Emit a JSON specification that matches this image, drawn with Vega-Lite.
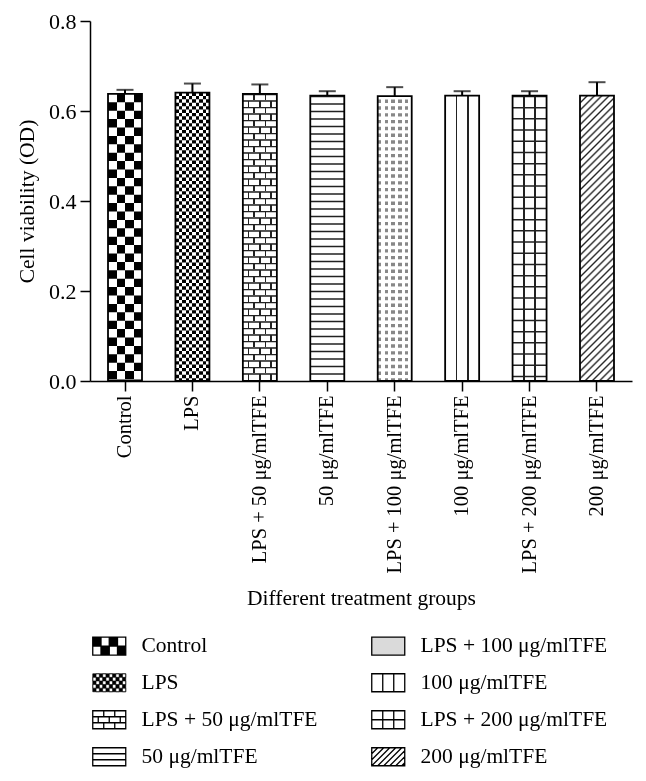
{
  "$schema": "https://vega.github.io/schema/vega-lite/v6.json",
  "width": 542,
  "height": 360,
  "autosize": "none",
  "padding": {"left": 90, "top": 21, "right": 14, "bottom": 400},
  "background": "white",
  "config": {
    "view": {"stroke": null},
    "axis": {
      "labelFont": "Liberation Serif", "labelFontSize": 20.5, "labelColor": "black",
      "titleFont": "Liberation Serif", "titleFontSize": 21.5, "titleFontWeight": "normal", "titleColor": "black",
      "domainColor": "black", "domainWidth": 1.5, "tickColor": "black", "tickWidth": 1.5, "tickSize": 10, "grid": false
    },
    "legend": {"labelFont": "Liberation Serif", "labelFontSize": 21.5, "labelColor": "black"}
  },
  "data": {
    "values": [
      {"group": "Control", "value": 0.638, "top": 0.647},
      {"group": "LPS", "value": 0.641, "top": 0.661},
      {"group": "LPS + 50 μg/mlTFE", "value": 0.638, "top": 0.659},
      {"group": "50 μg/mlTFE", "value": 0.634, "top": 0.644},
      {"group": "LPS + 100 μg/mlTFE", "value": 0.633, "top": 0.653},
      {"group": "100 μg/mlTFE", "value": 0.634, "top": 0.644},
      {"group": "LPS + 200 μg/mlTFE", "value": 0.634, "top": 0.644},
      {"group": "200 μg/mlTFE", "value": 0.634, "top": 0.664}
    ]
  },
  "encoding": {
    "x": {
      "field": "group", "type": "nominal",
      "sort": ["Control", "LPS", "LPS + 50 μg/mlTFE", "50 μg/mlTFE", "LPS + 100 μg/mlTFE", "100 μg/mlTFE", "LPS + 200 μg/mlTFE", "200 μg/mlTFE"],
      "scale": {"paddingInner": 0.4958, "paddingOuter": 0.267},
      "axis": {"labelAngle": -90, "labelPadding": 4, "title": "Different treatment groups", "titlePadding": 14, "labelLimit": 300}
    },
    "y": {
      "field": "value", "type": "quantitative",
      "scale": {"domain": [0, 0.8], "nice": false},
      "axis": {"values": [0, 0.2, 0.4, 0.6, 0.8], "format": ".1f", "labelPadding": 4, "labelFontSize": 22, "title": "Cell viability (OD)", "titlePadding": 10}
    }
  },
  "layer": [
    {
      "mark": {"type": "bar"},
      "encoding": {
        "fill": {
          "field": "group", "type": "nominal",
          "scale": {
            "domain": ["Control", "LPS", "LPS + 50 μg/mlTFE", "50 μg/mlTFE", "LPS + 100 μg/mlTFE", "100 μg/mlTFE", "LPS + 200 μg/mlTFE", "200 μg/mlTFE"],
            "range": ["black", "black", "white", "white", "#dadada", "white", "white", "white"]
          },
          "legend": {
            "orient": "none", "legendX": -8, "legendY": 614, "columns": 2, "columnPadding": 43, "rowPadding": 13,
            "title": null, "labelLimit": 300, "labelOffset": 38, "symbolSize": 4, "symbolStrokeWidth": 1.3,
            "symbolStrokeColor": "black", "symbolOpacity": 1,
            "encode": {
              "symbols": {
                "update": {
                  "shape": {"signal": "datum.value === 'Control' ? 'M0,-9h33v18h-33z M8.25,-9v9h8.25v-9z M24.75,-9v9h8.25v-9z M0,0v9h8.25v-9z M16.5,0v9h8.25v-9z' : datum.value === 'LPS' ? 'M0,-9h33v18h-33z M3.3,-9v3.6h3.3v-3.6z M9.9,-9v3.6h3.3v-3.6z M16.5,-9v3.6h3.3v-3.6z M23.1,-9v3.6h3.3v-3.6z M29.7,-9v3.6h3.3v-3.6z M0,-5.4v3.6h3.3v-3.6z M6.6,-5.4v3.6h3.3v-3.6z M13.2,-5.4v3.6h3.3v-3.6z M19.8,-5.4v3.6h3.3v-3.6z M26.4,-5.4v3.6h3.3v-3.6z M3.3,-1.8v3.6h3.3v-3.6z M9.9,-1.8v3.6h3.3v-3.6z M16.5,-1.8v3.6h3.3v-3.6z M23.1,-1.8v3.6h3.3v-3.6z M29.7,-1.8v3.6h3.3v-3.6z M0,1.8v3.6h3.3v-3.6z M6.6,1.8v3.6h3.3v-3.6z M13.2,1.8v3.6h3.3v-3.6z M19.8,1.8v3.6h3.3v-3.6z M26.4,1.8v3.6h3.3v-3.6z M3.3,5.4v3.6h3.3v-3.6z M9.9,5.4v3.6h3.3v-3.6z M16.5,5.4v3.6h3.3v-3.6z M23.1,5.4v3.6h3.3v-3.6z M29.7,5.4v3.6h3.3v-3.6z' : datum.value === 'LPS + 50 μg/mlTFE' ? 'M0,-9h33v18h-33z M0,-3h33 M0,3h33 M11,-9v6 M22,-9v6 M5.5,-3v6 M16.5,-3v6 M27.5,-3v6 M11,3v6 M22,3v6' : datum.value === '50 μg/mlTFE' ? 'M0,-9h33v18h-33z M0,-3h33 M0,3h33' : datum.value === 'LPS + 100 μg/mlTFE' ? 'M0,-9h33v18h-33z' : datum.value === '100 μg/mlTFE' ? 'M0,-9h33v18h-33z M11,-9v18 M22,-9v18' : datum.value === 'LPS + 200 μg/mlTFE' ? 'M0,-9h33v18h-33z M11,-9v18 M22,-9v18 M0,0h33' : 'M0,-9h33v18h-33z M0,-3L6,-9 M0,3L12,-9 M0,9L18,-9 M6,9L24,-9 M12,9L30,-9 M18,9L33,-6 M24,9L33,0 M30,9L33,6'"},
                  "strokeWidth": {"signal": "datum.value === 'LPS' ? 0.6 : 1.3"},
                  "stroke": {"value": "black"},
                  "opacity": {"value": 1}
                }
              }
            }
          }
        }
      }
    },
    {
      "mark": {"type": "bar"},
      "encoding": {
        "fill": {
          "condition": [
            {"test": "datum.group === 'Control'", "value": {"gradient": "linear", "x1": 0, "y1": 0, "x2": 1, "y2": 0, "stops": [{"offset": 0, "color": "black"}, {"offset": 0.25, "color": "black"}, {"offset": 0.25, "color": "white"}, {"offset": 0.5, "color": "white"}, {"offset": 0.5, "color": "black"}, {"offset": 0.75, "color": "black"}, {"offset": 0.75, "color": "white"}, {"offset": 1, "color": "white"}]}},
            {"test": "datum.group === 'LPS'", "value": {"gradient": "linear", "x1": 0, "y1": 0, "x2": 1, "y2": 0, "stops": [{"offset": 0, "color": "black"}, {"offset": 0.1, "color": "black"}, {"offset": 0.1, "color": "white"}, {"offset": 0.2, "color": "white"}, {"offset": 0.2, "color": "black"}, {"offset": 0.3, "color": "black"}, {"offset": 0.3, "color": "white"}, {"offset": 0.4, "color": "white"}, {"offset": 0.4, "color": "black"}, {"offset": 0.5, "color": "black"}, {"offset": 0.5, "color": "white"}, {"offset": 0.6, "color": "white"}, {"offset": 0.6, "color": "black"}, {"offset": 0.7, "color": "black"}, {"offset": 0.7, "color": "white"}, {"offset": 0.8, "color": "white"}, {"offset": 0.8, "color": "black"}, {"offset": 0.9, "color": "black"}, {"offset": 0.9, "color": "white"}, {"offset": 1, "color": "white"}]}},
            {"test": "datum.group === 'LPS + 100 μg/mlTFE'", "value": {"gradient": "linear", "x1": 0, "y1": 0, "x2": 1, "y2": 0, "stops": [{"offset": 0, "color": "#888"}, {"offset": 0.1, "color": "#888"}, {"offset": 0.1, "color": "white"}, {"offset": 0.2, "color": "white"}, {"offset": 0.2, "color": "#888"}, {"offset": 0.3, "color": "#888"}, {"offset": 0.3, "color": "white"}, {"offset": 0.4, "color": "white"}, {"offset": 0.4, "color": "#888"}, {"offset": 0.5, "color": "#888"}, {"offset": 0.5, "color": "white"}, {"offset": 0.6, "color": "white"}, {"offset": 0.6, "color": "#888"}, {"offset": 0.7, "color": "#888"}, {"offset": 0.7, "color": "white"}, {"offset": 0.8, "color": "white"}, {"offset": 0.8, "color": "#888"}, {"offset": 0.9, "color": "#888"}, {"offset": 0.9, "color": "white"}, {"offset": 1, "color": "white"}]}},
            {"test": "datum.group === 'LPS + 50 μg/mlTFE'", "value": {"gradient": "linear", "x1": 0, "y1": 0, "x2": 1, "y2": 0, "stops": [{"offset": 0, "color": "white"}, {"offset": 0.145, "color": "white"}, {"offset": 0.145, "color": "#222"}, {"offset": 0.189, "color": "#222"}, {"offset": 0.189, "color": "white"}, {"offset": 0.478, "color": "white"}, {"offset": 0.478, "color": "#222"}, {"offset": 0.522, "color": "#222"}, {"offset": 0.522, "color": "white"}, {"offset": 0.811, "color": "white"}, {"offset": 0.811, "color": "#222"}, {"offset": 0.855, "color": "#222"}, {"offset": 0.855, "color": "white"}, {"offset": 1, "color": "white"}]}},
            {"test": "datum.group === '100 μg/mlTFE' || datum.group === 'LPS + 200 μg/mlTFE'", "value": {"gradient": "linear", "x1": 0, "y1": 0, "x2": 1, "y2": 0, "stops": [{"offset": 0, "color": "white"}, {"offset": 0.311, "color": "white"}, {"offset": 0.311, "color": "#222"}, {"offset": 0.355, "color": "#222"}, {"offset": 0.355, "color": "white"}, {"offset": 0.645, "color": "white"}, {"offset": 0.645, "color": "#222"}, {"offset": 0.689, "color": "#222"}, {"offset": 0.689, "color": "white"}, {"offset": 1, "color": "white"}]}},
            {"test": "datum.group === '200 μg/mlTFE'", "value": {"gradient": "linear", "x1": 0, "y1": 0, "x2": 0.131, "y2": 1.103, "stops": [
              {"offset": 0, "color": "#fff"},
              {"offset": 0.0167, "color": "#fff"}, {"offset": 0.0227, "color": "#222"}, {"offset": 0.0287, "color": "#fff"},
              {"offset": 0.0395, "color": "#fff"}, {"offset": 0.0455, "color": "#222"}, {"offset": 0.0515, "color": "#fff"},
              {"offset": 0.0622, "color": "#fff"}, {"offset": 0.0682, "color": "#222"}, {"offset": 0.0742, "color": "#fff"},
              {"offset": 0.0849, "color": "#fff"}, {"offset": 0.0909, "color": "#222"}, {"offset": 0.0969, "color": "#fff"},
              {"offset": 0.1076, "color": "#fff"}, {"offset": 0.1136, "color": "#222"}, {"offset": 0.1196, "color": "#fff"},
              {"offset": 0.1304, "color": "#fff"}, {"offset": 0.1364, "color": "#222"}, {"offset": 0.1424, "color": "#fff"},
              {"offset": 0.1531, "color": "#fff"}, {"offset": 0.1591, "color": "#222"}, {"offset": 0.1651, "color": "#fff"},
              {"offset": 0.1758, "color": "#fff"}, {"offset": 0.1818, "color": "#222"}, {"offset": 0.1878, "color": "#fff"},
              {"offset": 0.1985, "color": "#fff"}, {"offset": 0.2045, "color": "#222"}, {"offset": 0.2105, "color": "#fff"},
              {"offset": 0.2213, "color": "#fff"}, {"offset": 0.2273, "color": "#222"}, {"offset": 0.2333, "color": "#fff"},
              {"offset": 0.244, "color": "#fff"}, {"offset": 0.25, "color": "#222"}, {"offset": 0.256, "color": "#fff"},
              {"offset": 0.2667, "color": "#fff"}, {"offset": 0.2727, "color": "#222"}, {"offset": 0.2787, "color": "#fff"},
              {"offset": 0.2895, "color": "#fff"}, {"offset": 0.2955, "color": "#222"}, {"offset": 0.3015, "color": "#fff"},
              {"offset": 0.3122, "color": "#fff"}, {"offset": 0.3182, "color": "#222"}, {"offset": 0.3242, "color": "#fff"},
              {"offset": 0.3349, "color": "#fff"}, {"offset": 0.3409, "color": "#222"}, {"offset": 0.3469, "color": "#fff"},
              {"offset": 0.3576, "color": "#fff"}, {"offset": 0.3636, "color": "#222"}, {"offset": 0.3696, "color": "#fff"},
              {"offset": 0.3804, "color": "#fff"}, {"offset": 0.3864, "color": "#222"}, {"offset": 0.3924, "color": "#fff"},
              {"offset": 0.4031, "color": "#fff"}, {"offset": 0.4091, "color": "#222"}, {"offset": 0.4151, "color": "#fff"},
              {"offset": 0.4258, "color": "#fff"}, {"offset": 0.4318, "color": "#222"}, {"offset": 0.4378, "color": "#fff"},
              {"offset": 0.4485, "color": "#fff"}, {"offset": 0.4545, "color": "#222"}, {"offset": 0.4605, "color": "#fff"},
              {"offset": 0.4713, "color": "#fff"}, {"offset": 0.4773, "color": "#222"}, {"offset": 0.4833, "color": "#fff"},
              {"offset": 0.494, "color": "#fff"}, {"offset": 0.5, "color": "#222"}, {"offset": 0.506, "color": "#fff"},
              {"offset": 0.5167, "color": "#fff"}, {"offset": 0.5227, "color": "#222"}, {"offset": 0.5287, "color": "#fff"},
              {"offset": 0.5395, "color": "#fff"}, {"offset": 0.5455, "color": "#222"}, {"offset": 0.5515, "color": "#fff"},
              {"offset": 0.5622, "color": "#fff"}, {"offset": 0.5682, "color": "#222"}, {"offset": 0.5742, "color": "#fff"},
              {"offset": 0.5849, "color": "#fff"}, {"offset": 0.5909, "color": "#222"}, {"offset": 0.5969, "color": "#fff"},
              {"offset": 0.6076, "color": "#fff"}, {"offset": 0.6136, "color": "#222"}, {"offset": 0.6196, "color": "#fff"},
              {"offset": 0.6304, "color": "#fff"}, {"offset": 0.6364, "color": "#222"}, {"offset": 0.6424, "color": "#fff"},
              {"offset": 0.6531, "color": "#fff"}, {"offset": 0.6591, "color": "#222"}, {"offset": 0.6651, "color": "#fff"},
              {"offset": 0.6758, "color": "#fff"}, {"offset": 0.6818, "color": "#222"}, {"offset": 0.6878, "color": "#fff"},
              {"offset": 0.6985, "color": "#fff"}, {"offset": 0.7045, "color": "#222"}, {"offset": 0.7105, "color": "#fff"},
              {"offset": 0.7213, "color": "#fff"}, {"offset": 0.7273, "color": "#222"}, {"offset": 0.7333, "color": "#fff"},
              {"offset": 0.744, "color": "#fff"}, {"offset": 0.75, "color": "#222"}, {"offset": 0.756, "color": "#fff"},
              {"offset": 0.7667, "color": "#fff"}, {"offset": 0.7727, "color": "#222"}, {"offset": 0.7787, "color": "#fff"},
              {"offset": 0.7895, "color": "#fff"}, {"offset": 0.7955, "color": "#222"}, {"offset": 0.8015, "color": "#fff"},
              {"offset": 0.8122, "color": "#fff"}, {"offset": 0.8182, "color": "#222"}, {"offset": 0.8242, "color": "#fff"},
              {"offset": 0.8349, "color": "#fff"}, {"offset": 0.8409, "color": "#222"}, {"offset": 0.8469, "color": "#fff"},
              {"offset": 0.8576, "color": "#fff"}, {"offset": 0.8636, "color": "#222"}, {"offset": 0.8696, "color": "#fff"},
              {"offset": 0.8804, "color": "#fff"}, {"offset": 0.8864, "color": "#222"}, {"offset": 0.8924, "color": "#fff"},
              {"offset": 0.9031, "color": "#fff"}, {"offset": 0.9091, "color": "#222"}, {"offset": 0.9151, "color": "#fff"},
              {"offset": 0.9258, "color": "#fff"}, {"offset": 0.9318, "color": "#222"}, {"offset": 0.9378, "color": "#fff"},
              {"offset": 0.9485, "color": "#fff"}, {"offset": 0.9545, "color": "#222"}, {"offset": 0.9605, "color": "#fff"},
              {"offset": 0.9713, "color": "#fff"}, {"offset": 0.9773, "color": "#222"}, {"offset": 0.9833, "color": "#fff"},
              {"offset": 1, "color": "#fff"}
            ]}}
          ],
          "value": "white"
        }
      }
    },
    {
      "transform": [{"filter": "datum.group === 'Control'"}],
      "mark": {"type": "rule", "stroke": "white", "strokeWidth": 34, "strokeDash": [8.4, 8.4], "blend": "difference"},
      "encoding": {"y2": {"datum": 0}}
    },
    {
      "transform": [{"filter": "datum.group === 'LPS'"}],
      "mark": {"type": "rule", "stroke": "white", "strokeWidth": 34, "strokeDash": [3.4, 3.4], "blend": "difference"},
      "encoding": {"y2": {"datum": 0}}
    },
    {
      "transform": [{"filter": "datum.group === 'LPS + 100 μg/mlTFE'"}],
      "mark": {"type": "rule", "stroke": "white", "strokeWidth": 34, "strokeDash": [3.4, 3.4]},
      "encoding": {"y2": {"datum": 0}}
    },
    {
      "transform": [{"filter": "datum.group === 'LPS + 50 μg/mlTFE'"}],
      "mark": {"type": "rule", "stroke": "white", "strokeWidth": 34, "strokeDash": [6.5, 6.5]},
      "encoding": {"y2": {"datum": 0}}
    },
    {
      "transform": [{"filter": "datum.group === 'LPS + 50 μg/mlTFE'"}],
      "mark": {"type": "rule", "stroke": "white", "strokeWidth": 34, "strokeDash": [6.5, 6.5], "strokeDashOffset": 6.5, "blend": "difference"},
      "encoding": {"y2": {"datum": 0}}
    },
    {
      "transform": [{"filter": "datum.group === 'LPS + 50 μg/mlTFE'"}],
      "mark": {"type": "bar", "blend": "multiply", "fill": {"gradient": "linear", "x1": 0, "y1": 0, "x2": 1, "y2": 0, "stops": [{"offset": 0, "color": "white"}, {"offset": 0.311, "color": "white"}, {"offset": 0.311, "color": "#222"}, {"offset": 0.355, "color": "#222"}, {"offset": 0.355, "color": "white"}, {"offset": 0.645, "color": "white"}, {"offset": 0.645, "color": "#222"}, {"offset": 0.689, "color": "#222"}, {"offset": 0.689, "color": "white"}, {"offset": 1, "color": "white"}]}}
    },
    {
      "transform": [{"filter": "datum.group === 'LPS + 50 μg/mlTFE'"}],
      "mark": {"type": "rule", "stroke": "white", "strokeWidth": 34, "strokeDash": [6.5, 6.5], "strokeDashOffset": 6.5, "blend": "difference"},
      "encoding": {"y2": {"datum": 0}}
    },
    {
      "transform": [{"filter": "datum.group === 'LPS + 50 μg/mlTFE'"}],
      "mark": {"type": "rule", "stroke": "#222", "strokeWidth": 34, "strokeDash": [1.3, 5.2]},
      "encoding": {"y2": {"datum": 0}}
    },
    {
      "transform": [{"filter": "datum.group === '50 μg/mlTFE'"}],
      "mark": {"type": "rule", "stroke": "#222", "strokeWidth": 34, "strokeDash": [1.5, 6]},
      "encoding": {"y2": {"datum": 0}}
    },
    {
      "transform": [{"filter": "datum.group === 'LPS + 200 μg/mlTFE'"}],
      "mark": {"type": "rule", "stroke": "#222", "strokeWidth": 34, "strokeDash": [1.5, 9.7]},
      "encoding": {"y2": {"datum": 0}}
    },
    {
      "mark": {"type": "bar", "fillOpacity": 0, "stroke": "black", "strokeWidth": 1.8}
    },
    {
      "mark": {"type": "rule", "color": "black", "strokeWidth": 2},
      "encoding": {"y2": {"field": "top"}}
    },
    {
      "mark": {"type": "tick", "color": "black", "thickness": 2, "size": 17},
      "encoding": {"y": {"field": "top", "type": "quantitative"}}
    }
  ]
}
